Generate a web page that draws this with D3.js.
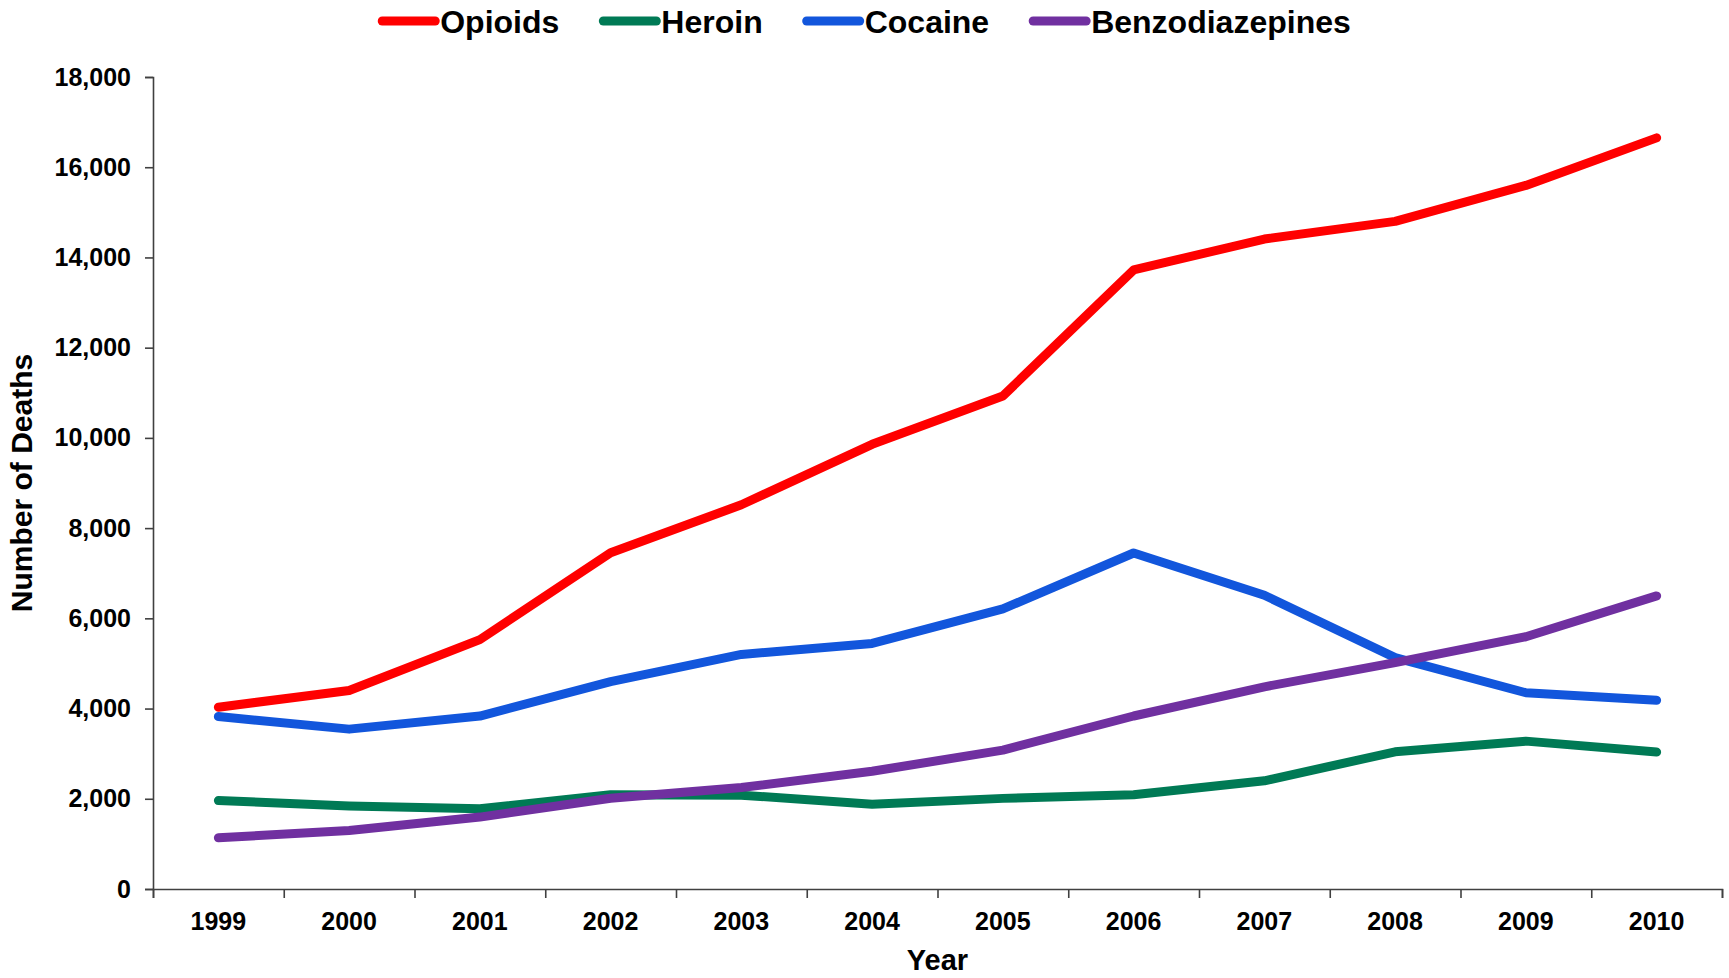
<!DOCTYPE html>
<html>
<head>
<meta charset="utf-8">
<script src="https://cdn.jsdelivr.net/npm/d3@7"></script>
<style>
  body { margin: 0; background: #fff; }
  text { font-family: "Liberation Sans", Arial, sans-serif; font-weight: bold; fill: #000; }
</style>
</head>
<body>
<div id="chart"></div>
<script>
// data
var years = ["1999", "2000", "2001", "2002", "2003", "2004", "2005", "2006", "2007", "2008", "2009", "2010"];
var opioids = [4030, 4400, 5528, 7456, 8517, 9857, 10928, 13723, 14408, 14800, 15597, 16651];
var heroin = [1960, 1842, 1779, 2089, 2080, 1878, 2009, 2088, 2399, 3041, 3278, 3036];
var cocaine = [3822, 3544, 3833, 4599, 5199, 5443, 6208, 7448, 6512, 5129, 4350, 4183];
var benzos = [1135, 1298, 1594, 2012, 2248, 2611, 3078, 3835, 4482, 5018, 5591, 6497];
var yTicks = [0, 2000, 4000, 6000, 8000, 10000, 12000, 14000, 16000, 18000];

var series = [
    {name: "Opioids", values: opioids, color: "#ff0000"},
    {name: "Heroin", values: heroin, color: "#007a55"},
    {name: "Cocaine", values: cocaine, color: "#1256dc"},
    {name: "Benzodiazepines", values: benzos, color: "#7030a0"}
];

var W = 1729, H = 978;
var margin = {top: 77, right: 7, bottom: 89, left: 153};
var width = W - margin.left - margin.right;
var height = H - margin.top - margin.bottom;

var svg = d3.select("#chart").append("svg")
    .attr("width", W)
    .attr("height", H);

var x = d3.scaleBand().domain(years).range([0, width]);
var xEdges = d3.scaleLinear().domain([0, years.length]).range([0, width]);
var y = d3.scaleLinear().domain([0, 18000]).range([height, 0]);

var g = svg.append("g")
    .attr("transform", "translate(" + margin.left + "," + margin.top + ")");

// y axis
var yAxis = g.append("g")
    .call(d3.axisLeft(y).tickValues(yTicks).tickSize(8).tickPadding(14).tickFormat(d3.format(",")));
yAxis.selectAll("text").style("font-size", "25px");

// x axis: ticks on category edges, labels on centres
var xTickAxis = g.append("g")
    .attr("transform", "translate(0," + height + ")")
    .call(d3.axisBottom(xEdges).ticks(12).tickSize(9).tickFormat(""));
var xLabelAxis = g.append("g")
    .attr("transform", "translate(0," + height + ")")
    .call(d3.axisBottom(x).tickSize(0).tickPadding(23));
xLabelAxis.select(".domain").remove();
xLabelAxis.selectAll("text").style("font-size", "25px");

g.selectAll(".domain, .tick line")
    .attr("stroke", "#404040")
    .attr("stroke-width", 1.6);

// lines
var line = d3.line()
    .x(function(d, i) { return x(years[i]) + x.bandwidth() / 2; })
    .y(function(d) { return y(d); });

g.selectAll(".series")
    .data(series)
    .enter().append("path")
    .attr("class", "series")
    .attr("d", function(d) { return line(d.values); })
    .attr("fill", "none")
    .attr("stroke", function(d) { return d.color; })
    .attr("stroke-width", 9)
    .attr("stroke-linecap", "round")
    .attr("stroke-linejoin", "round");

// axis titles
svg.append("text")
    .attr("transform", "translate(32," + (margin.top + height / 2) + ") rotate(-90)")
    .attr("text-anchor", "middle")
    .style("font-size", "30px")
    .text("Number of Deaths");

svg.append("text")
    .attr("x", margin.left + width / 2)
    .attr("y", 970)
    .attr("text-anchor", "middle")
    .style("font-size", "29px")
    .text("Year");

// legend, centred on the page
var legend = svg.append("g");
var lx = 0;
series.forEach(function(s) {
    var item = legend.append("g").attr("transform", "translate(" + lx + ",0)");
    item.append("line")
        .attr("x1", 4).attr("x2", 57)
        .attr("y1", 21).attr("y2", 21)
        .attr("stroke", s.color)
        .attr("stroke-width", 9)
        .attr("stroke-linecap", "round");
    var t = item.append("text")
        .attr("x", 62)
        .attr("y", 33)
        .style("font-size", "32px")
        .text(s.name);
    lx += 62 + t.node().getComputedTextLength() + 40;
});
lx -= 40;
legend.attr("transform", "translate(" + ((W - lx) / 2) + ",0)");
</script>
</body>
</html>
